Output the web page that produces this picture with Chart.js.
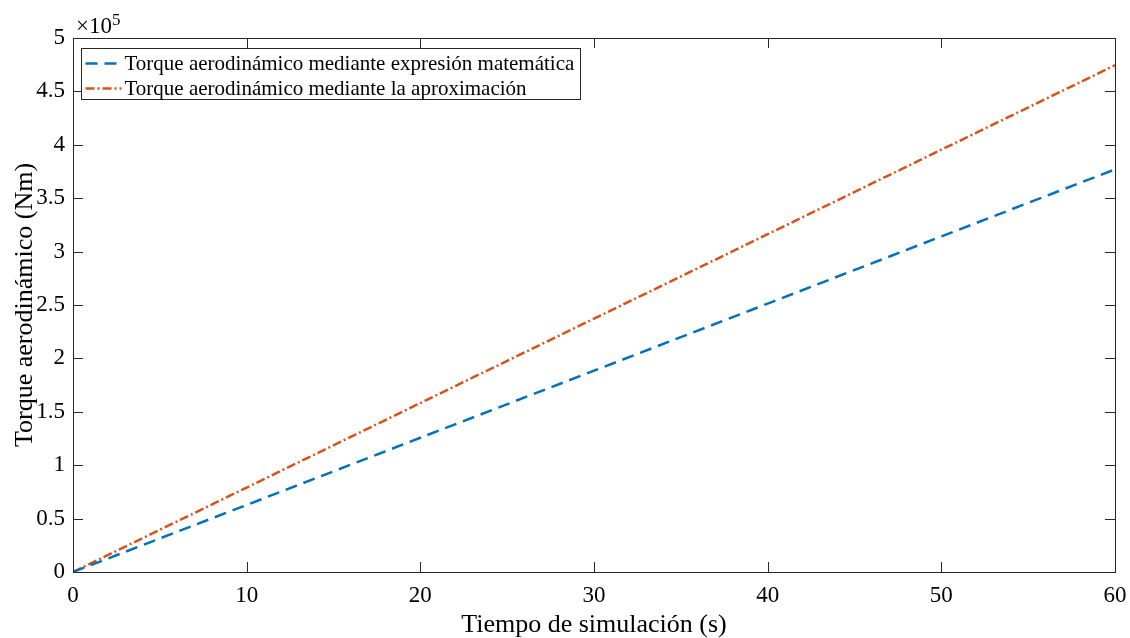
<!DOCTYPE html>
<html>
<head>
<meta charset="utf-8">
<script src="https://cdn.jsdelivr.net/npm/chart.js@4.4.1/dist/chart.umd.min.js"></script>
<style>
  html, body { margin: 0; padding: 0; background: #fff; }
  #wrap { width: 1130px; height: 638px; }
</style>
</head>
<body>
<div id="wrap"><canvas id="c" width="1130" height="638"></canvas></div>
<script>
// time axis (s) and torque values (Nm)
const tiempo = [0, 10, 20, 30, 40, 50, 60];
const torqueExpresion = [0, 62800, 125700, 188500, 251300, 314200, 377000];
const torqueAproximacion = [0, 79100, 158200, 237200, 316300, 395400, 474500];
const xTicks = [0, 10, 20, 30, 40, 50, 60];
const yTicks = [0, 0.5, 1, 1.5, 2, 2.5, 3, 3.5, 4, 4.5, 5];
const labels = [
  'Torque aerodinámico mediante expresión matemática',
  'Torque aerodinámico mediante la aproximación'
];

const axisColor = '#262626';
const serif = '"Liberation Serif", "Times New Roman", serif';

// box, inward ticks, x10^5 label and legend, MATLAB style
const matlabAxes = {
  id: 'matlabAxes',
  afterDraw(chart) {
    const ctx = chart.ctx;
    const a = chart.chartArea;
    const xs = chart.scales.x, ys = chart.scales.y;
    ctx.save();
    ctx.strokeStyle = axisColor;
    ctx.lineWidth = 1;
    ctx.setLineDash([]);
    ctx.strokeRect(Math.round(a.left) + 0.5, Math.round(a.top) + 0.5,
      Math.round(a.right - a.left), Math.round(a.bottom - a.top));
    const tl = 10;
    ctx.beginPath();
    xTicks.forEach(v => {
      const px = Math.round(xs.getPixelForValue(v)) + 0.5;
      ctx.moveTo(px, a.bottom); ctx.lineTo(px, a.bottom - tl);
      ctx.moveTo(px, a.top); ctx.lineTo(px, a.top + tl);
    });
    yTicks.forEach(v => {
      const py = Math.round(ys.getPixelForValue(v * 1e5)) + 0.5;
      ctx.moveTo(a.left, py); ctx.lineTo(a.left + tl, py);
      ctx.moveTo(a.right, py); ctx.lineTo(a.right - tl, py);
    });
    ctx.stroke();

    // exponent
    ctx.fillStyle = '#000';
    ctx.textBaseline = 'alphabetic';
    ctx.textAlign = 'left';
    ctx.font = '23px ' + serif;
    ctx.fillText('\u00d710', a.left + 3, a.top - 5);
    const w = ctx.measureText('\u00d710').width;
    ctx.font = '17px ' + serif;
    ctx.fillText('5', a.left + 3 + w, a.top - 13);

    // legend
    const lx = a.left + 8.5, ly = a.top + 10.5, lw = 499, lh = 51;
    ctx.fillStyle = '#fff';
    ctx.fillRect(lx, ly, lw, lh);
    ctx.strokeStyle = axisColor;
    ctx.lineWidth = 1;
    ctx.strokeRect(lx, ly, lw, lh);
    chart.data.datasets.forEach((ds, i) => {
      const cy = ly + 15 + i * 25;
      ctx.strokeStyle = ds.borderColor;
      ctx.lineWidth = 2.5;
      ctx.setLineDash(ds.borderDash);
      ctx.beginPath();
      ctx.moveTo(lx + 4, cy); ctx.lineTo(lx + 40, cy);
      ctx.stroke();
      ctx.setLineDash([]);
      ctx.fillStyle = '#000';
      ctx.font = '21px ' + serif;
      ctx.textBaseline = 'middle';
      ctx.fillText(ds.label, lx + 43, cy + 1);
    });
    ctx.restore();
  }
};

new Chart(document.getElementById('c'), {
  type: 'line',
  data: {
    datasets: [
      {
        label: labels[0],
        data: tiempo.map((t, i) => ({ x: t, y: torqueExpresion[i] })),
        borderColor: '#0072BD',
        borderWidth: 2.5,
        borderDash: [12, 7],
        pointRadius: 0,
        fill: false
      },
      {
        label: labels[1],
        data: tiempo.map((t, i) => ({ x: t, y: torqueAproximacion[i] })),
        borderColor: '#D95319',
        borderWidth: 2.5,
        borderDash: [9, 3, 2, 3],
        pointRadius: 0,
        fill: false
      }
    ]
  },
  options: {
    responsive: false,
    animation: false,
    layout: { padding: { left: 0, top: 38, right: 15, bottom: 0 } },
    plugins: { legend: { display: false }, tooltip: { enabled: false } },
    scales: {
      x: {
        type: 'linear',
        min: 0, max: 60,
        grid: { display: false, drawTicks: false },
        border: { display: false },
        afterFit: s => { s.height = 66; s.paddingRight = 0; s.paddingLeft = 0; },
        afterBuildTicks: s => { s.ticks = xTicks.map(v => ({ value: v })); },
        ticks: {
          color: '#000', padding: 10,
          font: { family: serif, size: 23 },
          maxRotation: 0
        },
        title: {
          display: true, text: 'Tiempo de simulación (s)', color: '#000',
          font: { family: serif, size: 26, lineHeight: 1 },
          padding: { top: 1, bottom: 0 }
        }
      },
      y: {
        type: 'linear',
        min: 0, max: 500000,
        grid: { display: false, drawTicks: false },
        border: { display: false },
        afterFit: s => { s.width = 73; s.paddingTop = 0; s.paddingBottom = 0; },
        afterBuildTicks: s => { s.ticks = yTicks.map(v => ({ value: v * 1e5 })); },
        ticks: {
          color: '#000', padding: 8,
          font: { family: serif, size: 23 },
          callback: v => String(v / 1e5)
        },
        title: {
          display: true, text: 'Torque aerodinámico (Nm)', color: '#000',
          font: { family: serif, size: 26, lineHeight: 1 },
          padding: { top: 12, bottom: 0 }
        }
      }
    }
  },
  plugins: [matlabAxes]
});
</script>
</body>
</html>
